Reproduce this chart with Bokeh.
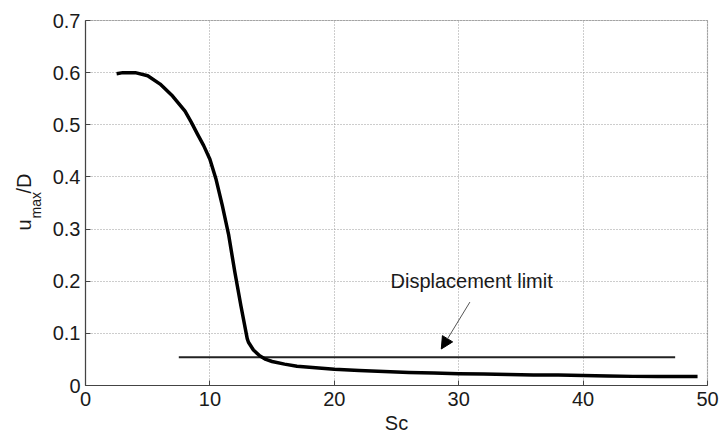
import math
from bokeh.plotting import figure
from bokeh.models import (Range1d, FixedTicker, Label, Arrow, NormalHead,
                          BoxAnnotation, Grid)
from bokeh.embed import file_html
from bokeh.resources import INLINE

# ---- data ----
sc = [2.5, 3.0, 4.0, 5.0, 6.0, 7.0, 8.0, 8.5, 9.0, 9.5, 10.0, 10.5, 11.0, 11.5,
      12.0, 12.5, 13.0, 13.1, 13.5, 14.0, 14.5, 15.0, 16.0, 17.0, 18.0, 19.0,
      20.0, 22.0, 24.0, 26.0, 28.0, 30.0, 32.0, 34.0, 36.0, 38.0, 40.0, 42.0,
      44.0, 46.0, 48.0, 49.2]
umax_d = [0.598, 0.600, 0.600, 0.594, 0.578, 0.555, 0.526, 0.505, 0.482, 0.460,
          0.434, 0.395, 0.345, 0.290, 0.218, 0.152, 0.090, 0.083, 0.068, 0.057,
          0.050, 0.046, 0.041, 0.037, 0.035, 0.033, 0.031, 0.029, 0.027, 0.025,
          0.024, 0.0225, 0.022, 0.021, 0.020, 0.020, 0.019, 0.018, 0.0175, 0.0175,
          0.0175, 0.0175]
limit_x = [7.5, 47.4]
limit_y = [0.054, 0.054]
x_ticks = [0, 10, 20, 30, 40, 50]
y_ticks = [0, 0.1, 0.2, 0.3, 0.4, 0.5, 0.6, 0.7]
x_lim = (0, 50)
y_lim = (0, 0.7)
x_title = "Sc"
annotation_text = "Displacement limit"

FONT = "Liberation Sans"
FS = "20px"
TXT = "#1a1a1a"
FRAME = "#444444"

# pixel layout of the axes box inside the 722x435 canvas
W, H = 722, 435
BOX_L, BOX_R, BOX_T, BOX_B = 85, 707, 20, 385
sx = (BOX_R - BOX_L) / (x_lim[1] - x_lim[0])
sy = (BOX_B - BOX_T) / (y_lim[1] - y_lim[0])
x0 = x_lim[0] - BOX_L / sx
x1 = x0 + W / sx
y0 = y_lim[0] - (H - BOX_B) / sy
y1 = y0 + H / sy


def dx(px):
    return x0 + px / sx


def dy(py):
    return y0 + (H - py) / sy


p = figure(width=W, height=H, output_backend="svg", toolbar_location=None,
           x_range=Range1d(x0, x1), y_range=Range1d(y0, y1), min_border=0)
p.background_fill_color = "white"
p.border_fill_color = "white"
p.outline_line_color = None

for ax, loc, bnds, tk in ((p.xaxis[0], 0, x_lim, x_ticks),
                          (p.yaxis[0], 0, y_lim, y_ticks)):
    ax.fixed_location = loc
    ax.bounds = bnds
    ax.ticker = FixedTicker(ticks=tk)
    ax.axis_line_color = FRAME
    ax.axis_line_width = 1.2
    ax.major_tick_in = 5
    ax.major_tick_out = 0
    ax.major_tick_line_color = FRAME
    ax.minor_tick_line_color = None
    ax.major_label_text_font = FONT
    ax.major_label_text_font_size = FS
    ax.major_label_text_color = TXT
    ax.axis_label = None
p.xaxis[0].major_label_standoff = 6
p.yaxis[0].major_label_standoff = 5

has_cross = "cross_bounds" in Grid.properties()
for g, tk, cb in ((p.xgrid[0], x_ticks, y_lim), (p.ygrid[0], y_ticks, x_lim)):
    g.ticker = FixedTicker(ticks=tk)
    g.grid_line_color = "#9a9a9a"
    g.grid_line_dash = "1 2"
    g.grid_line_width = 1
    if has_cross:
        g.cross_bounds = cb

if not has_cross:
    for kw in (dict(right=x_lim[0]), dict(left=x_lim[1]),
               dict(top=y_lim[0]), dict(bottom=y_lim[1])):
        p.add_layout(BoxAnnotation(fill_color="white", fill_alpha=1,
                                   line_color=None, level="underlay", **kw))

# axes box
p.add_layout(BoxAnnotation(left=x_lim[0], right=x_lim[1], bottom=y_lim[0],
                           top=y_lim[1], fill_alpha=0, line_color=FRAME,
                           line_width=1.2, level="guide"))

# displacement limit
p.line(limit_x, limit_y, line_color="#222222", line_width=2)
# main curve
p.line(sc, umax_d, line_color="black", line_width=3.5, line_join="round")

# text labels (positions in canvas pixels; Bokeh's alphabetic anchor sits ~7px low)
SHIFT = 7
p.add_layout(Label(x=dx(390), y=dy(287 - SHIFT), text=annotation_text,
                   text_font=FONT, text_font_size=FS, text_color=TXT,
                   text_align="left", text_baseline="alphabetic"))
p.add_layout(Arrow(x_start=30.9, y_start=0.160, x_end=28.6, y_end=0.070,
                   line_color="#555555", line_width=1,
                   end=NormalHead(size=12, fill_color="black", line_color="black")))

# x axis title
p.add_layout(Label(x=(x_lim[0] + x_lim[1]) / 2, y=dy(429 - SHIFT), text=x_title,
                   text_font=FONT, text_font_size=FS, text_color=TXT,
                   text_align="center", text_baseline="alphabetic"))
# y axis title u_max/D (rotated pieces)
for txt, px, py, fs in (("u", 30 - SHIFT, 230, FS),
                        ("max", 35, 218, "14px"),
                        ("/D", 30 - SHIFT, 193, FS)):
    p.add_layout(Label(x=dx(px), y=dy(py), text=txt, angle=math.pi / 2,
                       text_font=FONT, text_font_size=fs, text_color=TXT,
                       text_align="left", text_baseline="alphabetic"))

open("out.html", "w").write(file_html(p, INLINE))
